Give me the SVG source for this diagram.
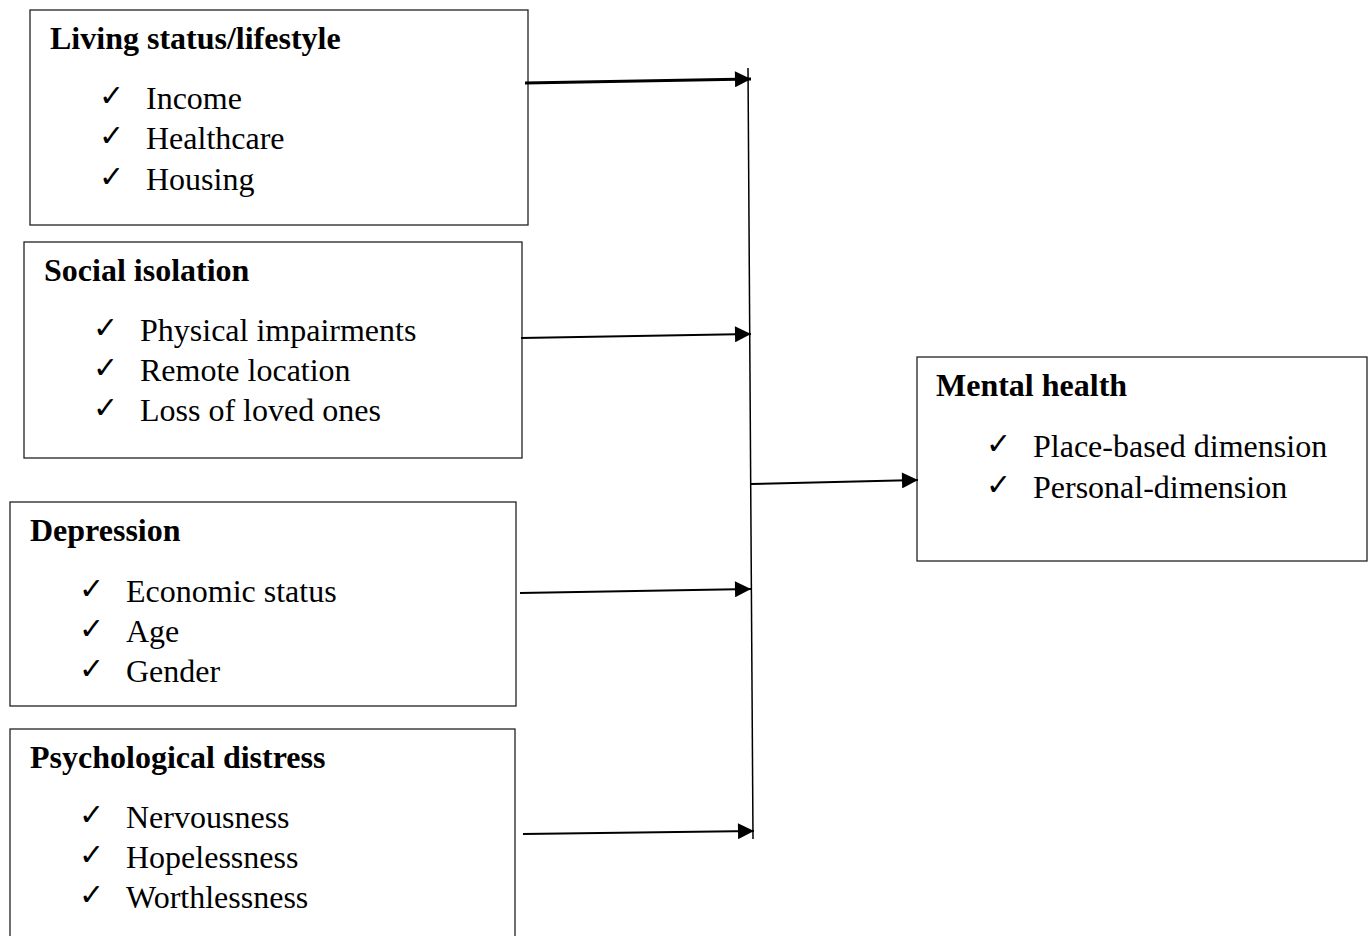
<svg xmlns="http://www.w3.org/2000/svg" width="1372" height="936" viewBox="0 0 1372 936">
<style>
.box{fill:#fff;stroke:#222;stroke-width:1.3}
.t{font-family:"Liberation Serif","Times New Roman",serif;font-size:32px;font-weight:bold;fill:#000}
.i{font-family:"Liberation Serif","Times New Roman",serif;font-size:32px;fill:#000}
.c{font-family:"DejaVu Sans",sans-serif;font-size:30px;fill:#000}
.ln{stroke:#000;fill:none}
</style>
<defs>
<marker id="ah" viewBox="0 0 10 10" refX="10" refY="5" markerWidth="18" markerHeight="16" markerUnits="userSpaceOnUse" orient="auto">
<path d="M0,0 L10,5 L0,10 z" fill="#000"/>
</marker>
</defs>
<rect width="1372" height="936" fill="#fff"/>
<g id="n1">
<rect class="box" x="30" y="10" width="498" height="215"/>
<text class="t" x="50" y="49">Living status/lifestyle</text>
<text class="c" x="99" y="106">✓</text><text class="i" x="146" y="109">Income</text>
<text class="c" x="99" y="146">✓</text><text class="i" x="146" y="149">Healthcare</text>
<text class="c" x="99" y="187">✓</text><text class="i" x="146" y="190">Housing</text>
</g>
<g id="n2">
<rect class="box" x="24" y="242" width="498" height="216"/>
<text class="t" x="44" y="281">Social isolation</text>
<text class="c" x="93" y="338">✓</text><text class="i" x="140" y="341">Physical impairments</text>
<text class="c" x="93" y="378">✓</text><text class="i" x="140" y="381">Remote location</text>
<text class="c" x="93" y="418">✓</text><text class="i" x="140" y="421">Loss of loved ones</text>
</g>
<g id="n3">
<rect class="box" x="10" y="502" width="506" height="204"/>
<text class="t" x="30" y="541">Depression</text>
<text class="c" x="79" y="599">✓</text><text class="i" x="126" y="602">Economic status</text>
<text class="c" x="79" y="639">✓</text><text class="i" x="126" y="642">Age</text>
<text class="c" x="79" y="679">✓</text><text class="i" x="126" y="682">Gender</text>
</g>
<g id="n4">
<rect class="box" x="10" y="729" width="505" height="220"/>
<text class="t" x="30" y="768">Psychological distress</text>
<text class="c" x="79" y="825">✓</text><text class="i" x="126" y="828">Nervousness</text>
<text class="c" x="79" y="865">✓</text><text class="i" x="126" y="868">Hopelessness</text>
<text class="c" x="79" y="905">✓</text><text class="i" x="126" y="908">Worthlessness</text>
</g>
<g id="n5">
<rect class="box" x="917" y="357" width="450" height="204"/>
<text class="t" x="936" y="396">Mental health</text>
<text class="c" x="986" y="454">✓</text><text class="i" x="1033" y="457">Place-based dimension</text>
<text class="c" x="986" y="495">✓</text><text class="i" x="1033" y="498">Personal-dimension</text>
</g>
<g id="connectors">
<line class="ln" stroke-width="1.5" x1="748" y1="68" x2="753" y2="839"/>
<line class="ln" stroke-width="3" x1="525" y1="83" x2="751" y2="79" marker-end="url(#ah)"/>
<line class="ln" stroke-width="2" x1="521" y1="338" x2="751" y2="334" marker-end="url(#ah)"/>
<line class="ln" stroke-width="2" x1="520" y1="593" x2="751" y2="589" marker-end="url(#ah)"/>
<line class="ln" stroke-width="2" x1="523" y1="834" x2="754" y2="831" marker-end="url(#ah)"/>
<line class="ln" stroke-width="2" x1="751" y1="484" x2="918" y2="480" marker-end="url(#ah)"/>
</g>
</svg>
